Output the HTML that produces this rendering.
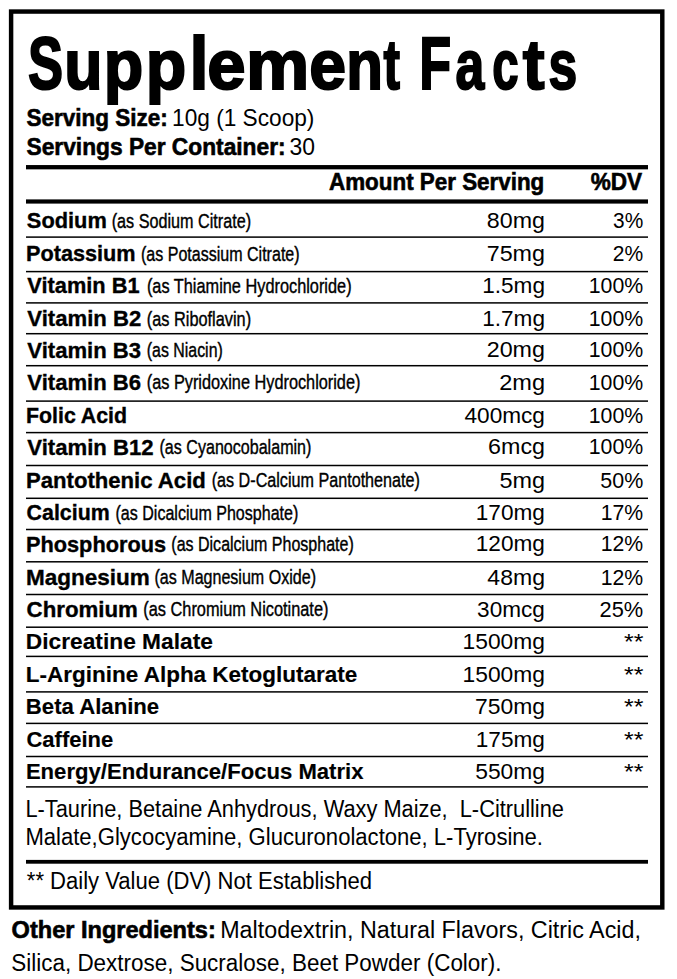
<!DOCTYPE html>
<html><head><meta charset="utf-8"><title>Supplement Facts</title>
<style>
html,body{margin:0;padding:0;background:#fff;}
svg{display:block;}
text{font-family:"Liberation Sans", sans-serif;fill:#000;}
</style></head><body>
<svg width="677" height="979" viewBox="0 0 677 979">
<rect width="677" height="979" fill="#fff"/>
<rect x="11.1" y="11.55" width="651.2" height="895.9" fill="none" stroke="#000" stroke-width="4.45"/>
<rect x="26" y="165.05" width="622" height="4.3" fill="#000"/>
<rect x="26" y="199.40" width="622" height="4.2" fill="#000"/>
<rect x="26" y="236.35" width="622" height="1.5" fill="#000"/>
<rect x="26" y="270.85" width="622" height="1.5" fill="#000"/>
<rect x="26" y="302.15" width="622" height="1.5" fill="#000"/>
<rect x="26" y="332.95" width="622" height="1.5" fill="#000"/>
<rect x="26" y="364.95" width="622" height="1.5" fill="#000"/>
<rect x="26" y="400.35" width="622" height="1.5" fill="#000"/>
<rect x="26" y="431.85" width="622" height="1.5" fill="#000"/>
<rect x="26" y="464.75" width="622" height="1.5" fill="#000"/>
<rect x="26" y="497.55" width="622" height="1.5" fill="#000"/>
<rect x="26" y="528.75" width="622" height="1.5" fill="#000"/>
<rect x="26" y="561.05" width="622" height="1.5" fill="#000"/>
<rect x="26" y="593.75" width="622" height="1.5" fill="#000"/>
<rect x="26" y="626.45" width="622" height="1.5" fill="#000"/>
<rect x="26" y="655.65" width="622" height="1.5" fill="#000"/>
<rect x="26" y="691.15" width="622" height="1.5" fill="#000"/>
<rect x="26" y="722.65" width="622" height="1.5" fill="#000"/>
<rect x="26" y="755.75" width="622" height="1.5" fill="#000"/>
<rect x="26" y="786.15" width="622" height="1.5" fill="#000"/>
<rect x="26" y="859.90" width="622" height="3.8" fill="#000"/>
<text x="27.89" y="89.00" font-weight="bold" font-size="74" stroke="#000" stroke-width="2.0" textLength="35.07" lengthAdjust="spacingAndGlyphs" xml:space="preserve">S</text>
<text x="64.32" y="89.00" font-weight="bold" font-size="70" stroke="#000" stroke-width="2.0" textLength="38.20" lengthAdjust="spacingAndGlyphs" xml:space="preserve">u</text>
<text x="103.84" y="89.00" font-weight="bold" font-size="70" stroke="#000" stroke-width="2.0" textLength="39.52" lengthAdjust="spacingAndGlyphs" xml:space="preserve">p</text>
<text x="145.73" y="89.00" font-weight="bold" font-size="70" stroke="#000" stroke-width="2.0" textLength="40.49" lengthAdjust="spacingAndGlyphs" xml:space="preserve">p</text>
<text x="189.62" y="89.00" font-weight="bold" font-size="75" stroke="#000" stroke-width="2.0" textLength="19.03" lengthAdjust="spacingAndGlyphs" xml:space="preserve">l</text>
<text x="207.31" y="89.00" font-weight="bold" font-size="70" stroke="#000" stroke-width="2.0" textLength="38.35" lengthAdjust="spacingAndGlyphs" xml:space="preserve">e</text>
<text x="245.91" y="89.00" font-weight="bold" font-size="70" stroke="#000" stroke-width="2.0" textLength="63.31" lengthAdjust="spacingAndGlyphs" xml:space="preserve">m</text>
<text x="309.21" y="89.00" font-weight="bold" font-size="70" stroke="#000" stroke-width="2.0" textLength="36.85" lengthAdjust="spacingAndGlyphs" xml:space="preserve">e</text>
<text x="346.24" y="89.00" font-weight="bold" font-size="70" stroke="#000" stroke-width="2.0" textLength="36.68" lengthAdjust="spacingAndGlyphs" xml:space="preserve">n</text>
<text x="383.59" y="89.00" font-weight="bold" font-size="70" stroke="#000" stroke-width="2.0" textLength="16.51" lengthAdjust="spacingAndGlyphs" xml:space="preserve">t</text>
<text x="419.21" y="89.00" font-weight="bold" font-size="74" stroke="#000" stroke-width="2.0" textLength="31.91" lengthAdjust="spacingAndGlyphs" xml:space="preserve">F</text>
<text x="455.58" y="89.00" font-weight="bold" font-size="70" stroke="#000" stroke-width="2.0" textLength="28.79" lengthAdjust="spacingAndGlyphs" xml:space="preserve">a</text>
<text x="492.25" y="89.00" font-weight="bold" font-size="70" stroke="#000" stroke-width="2.0" textLength="26.34" lengthAdjust="spacingAndGlyphs" xml:space="preserve">c</text>
<text x="522.80" y="89.00" font-weight="bold" font-size="70" stroke="#000" stroke-width="2.0" textLength="21.80" lengthAdjust="spacingAndGlyphs" xml:space="preserve">t</text>
<text x="548.38" y="89.00" font-weight="bold" font-size="70" stroke="#000" stroke-width="2.0" textLength="28.73" lengthAdjust="spacingAndGlyphs" xml:space="preserve">s</text>
<text x="26.55" y="125.90" font-weight="bold" font-size="24" stroke="#000" stroke-width="0.6" textLength="141.21" lengthAdjust="spacingAndGlyphs" xml:space="preserve">Serving Size:</text>
<text x="172.07" y="126.20" font-weight="normal" font-size="24" textLength="142.33" lengthAdjust="spacingAndGlyphs" xml:space="preserve">10g (1 Scoop)</text>
<text x="26.54" y="154.50" font-weight="bold" font-size="24" stroke="#000" stroke-width="0.6" textLength="259.04" lengthAdjust="spacingAndGlyphs" xml:space="preserve">Servings Per Container:</text>
<text x="289.43" y="154.80" font-weight="normal" font-size="24" textLength="25.47" lengthAdjust="spacingAndGlyphs" xml:space="preserve">30</text>
<text x="329.04" y="189.70" font-weight="bold" font-size="23.5" stroke="#000" stroke-width="0.6" textLength="215.26" lengthAdjust="spacingAndGlyphs" xml:space="preserve">Amount Per Serving</text>
<text x="590.64" y="189.70" font-weight="bold" font-size="23.5" stroke="#000" stroke-width="0.6" textLength="51.42" lengthAdjust="spacingAndGlyphs" xml:space="preserve">%DV</text>
<text x="26.85" y="228.02" font-weight="bold" font-size="21.8" stroke="#000" stroke-width="0.35" textLength="79.93" lengthAdjust="spacingAndGlyphs" xml:space="preserve">Sodium</text>
<text x="111.70" y="227.50" font-weight="normal" font-size="20.5" stroke="#000" stroke-width="0.4" textLength="139.41" lengthAdjust="spacingAndGlyphs" xml:space="preserve">(as Sodium Citrate)</text>
<text x="486.89" y="227.70" font-weight="normal" font-size="22" textLength="58.11" lengthAdjust="spacingAndGlyphs" xml:space="preserve">80mg</text>
<text x="613.11" y="227.70" font-weight="normal" font-size="22" textLength="30.14" lengthAdjust="spacingAndGlyphs" xml:space="preserve">3%</text>
<text x="26.03" y="261.32" font-weight="bold" font-size="21.8" stroke="#000" stroke-width="0.35" textLength="109.54" lengthAdjust="spacingAndGlyphs" xml:space="preserve">Potassium</text>
<text x="141.01" y="260.80" font-weight="normal" font-size="20.5" stroke="#000" stroke-width="0.4" textLength="158.59" lengthAdjust="spacingAndGlyphs" xml:space="preserve">(as Potassium Citrate)</text>
<text x="486.71" y="261.00" font-weight="normal" font-size="22" textLength="58.30" lengthAdjust="spacingAndGlyphs" xml:space="preserve">75mg</text>
<text x="612.84" y="261.00" font-weight="normal" font-size="22" textLength="30.41" lengthAdjust="spacingAndGlyphs" xml:space="preserve">2%</text>
<text x="27.33" y="293.32" font-weight="bold" font-size="21.8" stroke="#000" stroke-width="0.35" textLength="112.21" lengthAdjust="spacingAndGlyphs" xml:space="preserve">Vitamin B1</text>
<text x="146.89" y="292.80" font-weight="normal" font-size="20.5" stroke="#000" stroke-width="0.4" textLength="204.72" lengthAdjust="spacingAndGlyphs" xml:space="preserve">(as Thiamine Hydrochloride)</text>
<text x="482.18" y="293.00" font-weight="normal" font-size="22" textLength="62.78" lengthAdjust="spacingAndGlyphs" xml:space="preserve">1.5mg</text>
<text x="588.78" y="293.00" font-weight="normal" font-size="22" textLength="54.48" lengthAdjust="spacingAndGlyphs" xml:space="preserve">100%</text>
<text x="27.32" y="326.02" font-weight="bold" font-size="21.8" stroke="#000" stroke-width="0.35" textLength="113.89" lengthAdjust="spacingAndGlyphs" xml:space="preserve">Vitamin B2</text>
<text x="146.79" y="325.50" font-weight="normal" font-size="20.5" stroke="#000" stroke-width="0.4" textLength="104.32" lengthAdjust="spacingAndGlyphs" xml:space="preserve">(as Riboflavin)</text>
<text x="482.18" y="325.70" font-weight="normal" font-size="22" textLength="62.78" lengthAdjust="spacingAndGlyphs" xml:space="preserve">1.7mg</text>
<text x="588.78" y="325.70" font-weight="normal" font-size="22" textLength="54.48" lengthAdjust="spacingAndGlyphs" xml:space="preserve">100%</text>
<text x="27.32" y="357.62" font-weight="bold" font-size="21.8" stroke="#000" stroke-width="0.35" textLength="113.80" lengthAdjust="spacingAndGlyphs" xml:space="preserve">Vitamin B3</text>
<text x="146.81" y="357.10" font-weight="normal" font-size="20.5" stroke="#000" stroke-width="0.4" textLength="75.97" lengthAdjust="spacingAndGlyphs" xml:space="preserve">(as Niacin)</text>
<text x="486.73" y="357.30" font-weight="normal" font-size="22" textLength="58.27" lengthAdjust="spacingAndGlyphs" xml:space="preserve">20mg</text>
<text x="588.78" y="357.30" font-weight="normal" font-size="22" textLength="54.48" lengthAdjust="spacingAndGlyphs" xml:space="preserve">100%</text>
<text x="27.32" y="389.82" font-weight="bold" font-size="21.8" stroke="#000" stroke-width="0.35" textLength="113.80" lengthAdjust="spacingAndGlyphs" xml:space="preserve">Vitamin B6</text>
<text x="146.79" y="389.30" font-weight="normal" font-size="20.5" stroke="#000" stroke-width="0.4" textLength="213.62" lengthAdjust="spacingAndGlyphs" xml:space="preserve">(as Pyridoxine Hydrochloride)</text>
<text x="499.22" y="389.50" font-weight="normal" font-size="22" textLength="45.80" lengthAdjust="spacingAndGlyphs" xml:space="preserve">2mg</text>
<text x="588.78" y="389.50" font-weight="normal" font-size="22" textLength="54.48" lengthAdjust="spacingAndGlyphs" xml:space="preserve">100%</text>
<text x="26.05" y="422.82" font-weight="bold" font-size="21.8" stroke="#000" stroke-width="0.35" textLength="100.98" lengthAdjust="spacingAndGlyphs" xml:space="preserve">Folic Acid</text>
<text x="464.48" y="422.50" font-weight="normal" font-size="22" textLength="80.48" lengthAdjust="spacingAndGlyphs" xml:space="preserve">400mcg</text>
<text x="588.78" y="422.50" font-weight="normal" font-size="22" textLength="54.48" lengthAdjust="spacingAndGlyphs" xml:space="preserve">100%</text>
<text x="27.32" y="454.62" font-weight="bold" font-size="21.8" stroke="#000" stroke-width="0.35" textLength="126.29" lengthAdjust="spacingAndGlyphs" xml:space="preserve">Vitamin B12</text>
<text x="159.50" y="454.10" font-weight="normal" font-size="20.5" stroke="#000" stroke-width="0.4" textLength="151.89" lengthAdjust="spacingAndGlyphs" xml:space="preserve">(as Cyanocobalamin)</text>
<text x="488.12" y="454.30" font-weight="normal" font-size="22" textLength="56.88" lengthAdjust="spacingAndGlyphs" xml:space="preserve">6mcg</text>
<text x="588.78" y="454.30" font-weight="normal" font-size="22" textLength="54.48" lengthAdjust="spacingAndGlyphs" xml:space="preserve">100%</text>
<text x="26.00" y="487.82" font-weight="bold" font-size="21.8" stroke="#000" stroke-width="0.35" textLength="179.79" lengthAdjust="spacingAndGlyphs" xml:space="preserve">Pantothenic Acid</text>
<text x="211.70" y="487.30" font-weight="normal" font-size="20.5" stroke="#000" stroke-width="0.4" textLength="208.20" lengthAdjust="spacingAndGlyphs" xml:space="preserve">(as D-Calcium Pantothenate)</text>
<text x="499.46" y="487.50" font-weight="normal" font-size="22" textLength="45.55" lengthAdjust="spacingAndGlyphs" xml:space="preserve">5mg</text>
<text x="600.34" y="487.50" font-weight="normal" font-size="22" textLength="42.92" lengthAdjust="spacingAndGlyphs" xml:space="preserve">50%</text>
<text x="26.60" y="520.12" font-weight="bold" font-size="21.8" stroke="#000" stroke-width="0.35" textLength="83.15" lengthAdjust="spacingAndGlyphs" xml:space="preserve">Calcium</text>
<text x="115.51" y="519.60" font-weight="normal" font-size="20.5" stroke="#000" stroke-width="0.4" textLength="182.79" lengthAdjust="spacingAndGlyphs" xml:space="preserve">(as Dicalcium Phosphate)</text>
<text x="475.78" y="519.80" font-weight="normal" font-size="22" textLength="69.18" lengthAdjust="spacingAndGlyphs" xml:space="preserve">170mg</text>
<text x="600.78" y="519.80" font-weight="normal" font-size="22" textLength="42.47" lengthAdjust="spacingAndGlyphs" xml:space="preserve">17%</text>
<text x="26.02" y="551.73" font-weight="bold" font-size="21.8" stroke="#000" stroke-width="0.35" textLength="139.99" lengthAdjust="spacingAndGlyphs" xml:space="preserve">Phosphorous</text>
<text x="171.31" y="551.20" font-weight="normal" font-size="20.5" stroke="#000" stroke-width="0.4" textLength="182.49" lengthAdjust="spacingAndGlyphs" xml:space="preserve">(as Dicalcium Phosphate)</text>
<text x="475.78" y="551.40" font-weight="normal" font-size="22" textLength="69.18" lengthAdjust="spacingAndGlyphs" xml:space="preserve">120mg</text>
<text x="600.78" y="551.40" font-weight="normal" font-size="22" textLength="42.47" lengthAdjust="spacingAndGlyphs" xml:space="preserve">12%</text>
<text x="25.97" y="584.83" font-weight="bold" font-size="21.8" stroke="#000" stroke-width="0.35" textLength="123.75" lengthAdjust="spacingAndGlyphs" xml:space="preserve">Magnesium</text>
<text x="154.50" y="584.30" font-weight="normal" font-size="20.5" stroke="#000" stroke-width="0.4" textLength="161.49" lengthAdjust="spacingAndGlyphs" xml:space="preserve">(as Magnesium Oxide)</text>
<text x="487.37" y="584.50" font-weight="normal" font-size="22" textLength="57.61" lengthAdjust="spacingAndGlyphs" xml:space="preserve">48mg</text>
<text x="600.78" y="584.50" font-weight="normal" font-size="22" textLength="42.47" lengthAdjust="spacingAndGlyphs" xml:space="preserve">12%</text>
<text x="26.56" y="616.93" font-weight="bold" font-size="21.8" stroke="#000" stroke-width="0.35" textLength="111.34" lengthAdjust="spacingAndGlyphs" xml:space="preserve">Chromium</text>
<text x="143.29" y="616.40" font-weight="normal" font-size="20.5" stroke="#000" stroke-width="0.4" textLength="185.13" lengthAdjust="spacingAndGlyphs" xml:space="preserve">(as Chromium Nicotinate)</text>
<text x="477.14" y="616.60" font-weight="normal" font-size="22" textLength="67.82" lengthAdjust="spacingAndGlyphs" xml:space="preserve">30mcg</text>
<text x="599.60" y="616.60" font-weight="normal" font-size="22" textLength="43.67" lengthAdjust="spacingAndGlyphs" xml:space="preserve">25%</text>
<text x="25.85" y="649.12" font-weight="bold" font-size="21.8" stroke="#000" stroke-width="0.15" textLength="187.05" lengthAdjust="spacingAndGlyphs" xml:space="preserve">Dicreatine Malate</text>
<text x="462.56" y="648.70" font-weight="normal" font-size="22" textLength="82.41" lengthAdjust="spacingAndGlyphs" xml:space="preserve">1500mg</text>
<text x="624.00" y="648.70" font-weight="normal" font-size="22" textLength="19.39" lengthAdjust="spacingAndGlyphs" xml:space="preserve">**</text>
<text x="25.87" y="682.12" font-weight="bold" font-size="21.8" stroke="#000" stroke-width="0.15" textLength="331.42" lengthAdjust="spacingAndGlyphs" xml:space="preserve">L-Arginine Alpha Ketoglutarate</text>
<text x="462.56" y="681.70" font-weight="normal" font-size="22" textLength="82.41" lengthAdjust="spacingAndGlyphs" xml:space="preserve">1500mg</text>
<text x="624.00" y="681.70" font-weight="normal" font-size="22" textLength="19.39" lengthAdjust="spacingAndGlyphs" xml:space="preserve">**</text>
<text x="25.89" y="714.02" font-weight="bold" font-size="21.8" stroke="#000" stroke-width="0.15" textLength="133.29" lengthAdjust="spacingAndGlyphs" xml:space="preserve">Beta Alanine</text>
<text x="474.93" y="713.60" font-weight="normal" font-size="22" textLength="70.05" lengthAdjust="spacingAndGlyphs" xml:space="preserve">750mg</text>
<text x="624.00" y="713.60" font-weight="normal" font-size="22" textLength="19.39" lengthAdjust="spacingAndGlyphs" xml:space="preserve">**</text>
<text x="26.47" y="747.02" font-weight="bold" font-size="21.8" stroke="#000" stroke-width="0.15" textLength="86.70" lengthAdjust="spacingAndGlyphs" xml:space="preserve">Caffeine</text>
<text x="475.78" y="746.60" font-weight="normal" font-size="22" textLength="69.18" lengthAdjust="spacingAndGlyphs" xml:space="preserve">175mg</text>
<text x="624.00" y="746.60" font-weight="normal" font-size="22" textLength="19.39" lengthAdjust="spacingAndGlyphs" xml:space="preserve">**</text>
<text x="25.90" y="778.92" font-weight="bold" font-size="21.8" stroke="#000" stroke-width="0.15" textLength="337.59" lengthAdjust="spacingAndGlyphs" xml:space="preserve">Energy/Endurance/Focus Matrix</text>
<text x="475.19" y="778.50" font-weight="normal" font-size="22" textLength="69.78" lengthAdjust="spacingAndGlyphs" xml:space="preserve">550mg</text>
<text x="624.00" y="778.50" font-weight="normal" font-size="22" textLength="19.39" lengthAdjust="spacingAndGlyphs" xml:space="preserve">**</text>
<text x="25.41" y="816.90" font-weight="normal" font-size="23" textLength="538.56" lengthAdjust="spacingAndGlyphs" xml:space="preserve">L-Taurine, Betaine Anhydrous, Waxy Maize,  L-Citrulline</text>
<text x="25.39" y="844.80" font-weight="normal" font-size="23" textLength="517.63" lengthAdjust="spacingAndGlyphs" xml:space="preserve">Malate,Glycocyamine, Glucuronolactone, L-Tyrosine.</text>
<text x="26.84" y="889.40" font-weight="normal" font-size="23" textLength="345.18" lengthAdjust="spacingAndGlyphs" xml:space="preserve">** Daily Value (DV) Not Established</text>
<text x="11.63" y="938.00" font-weight="bold" font-size="23" stroke="#000" stroke-width="0.6" textLength="204.13" lengthAdjust="spacingAndGlyphs" xml:space="preserve">Other Ingredients:</text>
<text x="220.19" y="937.80" font-weight="normal" font-size="23" textLength="420.70" lengthAdjust="spacingAndGlyphs" xml:space="preserve">Maltodextrin, Natural Flavors, Citric Acid,</text>
<text x="11.28" y="970.70" font-weight="normal" font-size="23" textLength="490.27" lengthAdjust="spacingAndGlyphs" xml:space="preserve">Silica, Dextrose, Sucralose, Beet Powder (Color).</text>
</svg>
</body></html>
